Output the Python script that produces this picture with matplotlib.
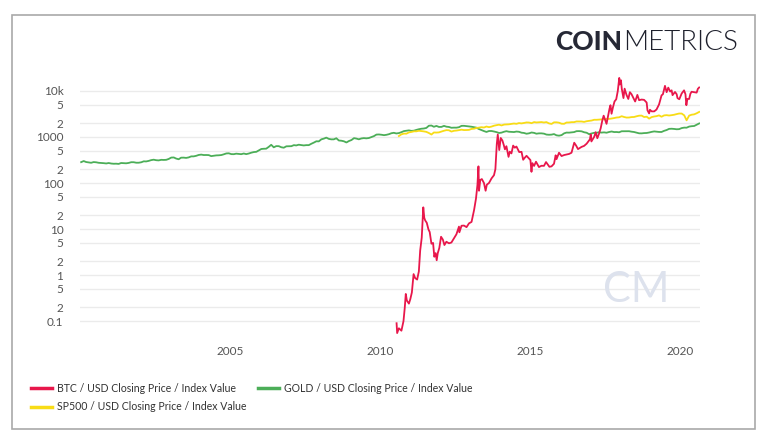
import pandas as pd
import matplotlib
matplotlib.use('Agg')
import matplotlib.pyplot as plt
import matplotlib.dates as mdates
from matplotlib.lines import Line2D
from matplotlib.patches import Rectangle
from matplotlib.ticker import FixedLocator, FixedFormatter


# ---- data ----
gold_start = '2000-01-01'
gold_values = [
    284, 300, 286, 280, 275, 285, 282, 275, 273, 270, 266, 272,
    265, 262, 263, 260, 272, 270, 268, 273, 283, 283, 276, 276,
    282, 296, 294, 302, 314, 321, 313, 310, 319, 317, 319, 333,
    357, 359, 340, 328, 355, 356, 351, 360, 379, 379, 390, 407,
    414, 405, 406, 404, 384, 392, 398, 400, 405, 420, 439, 442,
    424, 423, 434, 429, 423, 437, 424, 437, 456, 470, 476, 510,
    549, 555, 557, 610, 676, 596, 633, 632, 598, 585, 627, 629,
    631, 665, 655, 679, 666, 655, 665, 665, 712, 754, 806, 803,
    889, 922, 968, 909, 888, 889, 939, 839, 829, 806, 760, 816,
    858, 943, 924, 890, 928, 945, 934, 949, 996, 1043, 1127, 1134,
    1118, 1095, 1113, 1148, 1205, 1232, 1193, 1215, 1271, 1342, 1370, 1391,
    1356, 1372, 1424, 1473, 1510, 1528, 1572, 1755, 1772, 1665, 1739, 1652,
    1656, 1742, 1674, 1650, 1585, 1596, 1594, 1630, 1744, 1747, 1721, 1688,
    1670, 1627, 1593, 1487, 1414, 1343, 1286, 1347, 1349, 1316, 1275, 1221,
    1244, 1300, 1336, 1299, 1287, 1279, 1311, 1296, 1239, 1222, 1176, 1200,
    1251, 1227, 1178, 1198, 1199, 1181, 1128, 1117, 1125, 1156, 1086, 1068,
    1097, 1199, 1246, 1242, 1260, 1276, 1337, 1341, 1326, 1267, 1236, 1151,
    1192, 1234, 1231, 1267, 1246, 1260, 1237, 1283, 1315, 1279, 1282, 1265,
    1331, 1331, 1325, 1334, 1303, 1282, 1238, 1201, 1198, 1215, 1221, 1250,
    1291, 1320, 1301, 1286, 1284, 1359, 1413, 1500, 1510, 1495, 1471, 1480,
    1560, 1597, 1592, 1683, 1715, 1732, 1847, 1968,
]

sp500_start = '2010-08-01'
sp500_values = [
    1049, 1141, 1183, 1180, 1258,
    1286, 1327, 1326, 1364, 1345, 1321, 1292, 1219, 1131, 1253, 1247, 1258,
    1312, 1366, 1408, 1398, 1310, 1362, 1379, 1407, 1441, 1412, 1416, 1426,
    1498, 1515, 1569, 1597, 1631, 1606, 1686, 1633, 1682, 1757, 1806, 1848,
    1783, 1859, 1872, 1884, 1924, 1960, 1931, 2003, 1972, 2018, 2068, 2059,
    1995, 2105, 2068, 2086, 2107, 2063, 2104, 1972, 1920, 2079, 2080, 2044,
    1940, 1932, 2060, 2065, 2097, 2099, 2174, 2171, 2168, 2126, 2199, 2239,
    2279, 2364, 2363, 2384, 2412, 2423, 2470, 2472, 2519, 2575, 2648, 2674,
    2824, 2714, 2641, 2648, 2705, 2718, 2816, 2902, 2914, 2711, 2760, 2507,
    2704, 2784, 2834, 2946, 2752, 2942, 2980, 2926, 2977, 3038, 3141, 3231,
    3226, 2954, 2300, 2912, 3044, 3100, 3271, 3500,
]

btc_dates = [
    '2010-07-18', '2010-07-25', '2010-08-15', '2010-09-15', '2010-10-10',
    '2010-10-25', '2010-11-07', '2010-11-20', '2010-12-15', '2011-01-01',
    '2011-01-20', '2011-02-10', '2011-03-01', '2011-03-25', '2011-04-15',
    '2011-05-01', '2011-05-20', '2011-06-08', '2011-06-20', '2011-07-01',
    '2011-07-20', '2011-08-10', '2011-08-25', '2011-09-15', '2011-10-05',
    '2011-10-20', '2011-11-05', '2011-11-18', '2011-12-01', '2011-12-20',
    '2012-01-10', '2012-02-01', '2012-02-20', '2012-03-15', '2012-04-15',
    '2012-05-15', '2012-06-15', '2012-07-15', '2012-08-15', '2012-08-20',
    '2012-09-15', '2012-10-15', '2012-11-15', '2012-12-15', '2013-01-15',
    '2013-02-15', '2013-03-10', '2013-03-28', '2013-04-09', '2013-04-16',
    '2013-05-01', '2013-05-20', '2013-06-15', '2013-07-05', '2013-07-20',
    '2013-08-15', '2013-09-15', '2013-10-15', '2013-11-01', '2013-11-18',
    '2013-11-30', '2013-12-18', '2014-01-05', '2014-01-25', '2014-02-10',
    '2014-02-25', '2014-03-15', '2014-04-10', '2014-04-25', '2014-05-15',
    '2014-06-05', '2014-06-25', '2014-07-15', '2014-08-18', '2014-09-15',
    '2014-10-05', '2014-10-25', '2014-11-15', '2014-12-15', '2015-01-01',
    '2015-01-14', '2015-01-25', '2015-02-15', '2015-03-10', '2015-04-15',
    '2015-05-15', '2015-06-15', '2015-07-10', '2015-08-20', '2015-09-15',
    '2015-10-15', '2015-11-04', '2015-11-15', '2015-12-15', '2016-01-15',
    '2016-02-15', '2016-03-15', '2016-04-15', '2016-05-15', '2016-06-17',
    '2016-07-10', '2016-08-02', '2016-09-15', '2016-10-15', '2016-11-15',
    '2016-12-25', '2017-01-04', '2017-01-12', '2017-02-15', '2017-03-05',
    '2017-03-25', '2017-04-15', '2017-05-05', '2017-05-25', '2017-06-10',
    '2017-07-15', '2017-08-01', '2017-08-20', '2017-09-01', '2017-09-14',
    '2017-10-01', '2017-10-20', '2017-11-10', '2017-11-29', '2017-12-17',
    '2017-12-22', '2018-01-06', '2018-01-17', '2018-02-06', '2018-02-20',
    '2018-03-15', '2018-04-06', '2018-04-25', '2018-05-15', '2018-06-28',
    '2018-07-25', '2018-08-15', '2018-09-15', '2018-10-15', '2018-11-15',
    '2018-11-25', '2018-12-15', '2018-12-25', '2019-01-15', '2019-02-15',
    '2019-03-15', '2019-04-15', '2019-05-15', '2019-06-01', '2019-06-26',
    '2019-07-16', '2019-08-05', '2019-08-28', '2019-09-15', '2019-09-26',
    '2019-10-26', '2019-11-15', '2019-11-25', '2019-12-17', '2020-01-15',
    '2020-02-13', '2020-03-01', '2020-03-12', '2020-03-25', '2020-04-15',
    '2020-04-30', '2020-05-15', '2020-06-15', '2020-07-15', '2020-07-30',
    '2020-08-15',
]
btc_values = [
    0.09, 0.055, 0.07, 0.062, 0.10,
    0.19, 0.39, 0.28, 0.24, 0.30,
    0.42, 1.05, 0.86, 0.80, 1.2,
    3.4, 6.5, 29.6, 17.5, 15.4,
    13.7, 9.8, 8.6, 4.8, 5.0,
    2.5, 3.0, 2.1, 3.0, 3.9,
    6.8, 5.9, 4.5, 5.3, 4.9,
    5.1, 6.3, 7.7, 11.3, 8.5,
    11.8, 11.9, 11.0, 13.3, 14.3,
    26, 46, 92, 230, 68,
    116, 122, 100, 68, 92,
    100, 126, 148, 200, 700,
    1130, 520, 950, 840, 680,
    540, 630, 370, 480, 440,
    650, 585, 620, 470, 475,
    320, 355, 390, 340, 315,
    175, 270, 235, 290, 222,
    237, 236, 285, 225, 230,
    262, 400, 330, 455, 385,
    405, 415, 428, 455, 750,
    650, 545, 610, 640, 715,
    890, 1130, 800, 1010, 1270,
    940, 1180, 1550, 2300, 2900,
    1930, 2730, 4100, 4900, 3200,
    4400, 5900, 6600, 10000, 19200,
    13800, 17100, 11000, 7000, 11200,
    8200, 6700, 9400, 8500, 5900,
    8200, 6300, 6500, 6400, 5600,
    3800, 3250, 3900, 3600, 3600,
    3950, 5100, 8000, 8500, 12900,
    9400, 11800, 9700, 10300, 8100,
    9500, 8500, 7000, 6600, 8800,
    10300, 8500, 4900, 6700, 6700,
    8700, 9600, 9400, 9200, 11100,
    11900,
]

y_ticks = [0.1, 0.2, 0.5, 1, 2, 5, 10, 20, 50, 100, 200, 500,
           1000, 2000, 5000, 10000]
y_tick_labels = ['0.1', '2', '5', '1', '2', '5', '10', '2', '5', '100',
                 '2', '5', '1000', '2', '5', '10k']
x_tick_years = ['2005', '2010', '2015', '2020']

series_labels = [
    'BTC / USD Closing Price / Index Value',
    'GOLD / USD Closing Price / Index Value',
    'SP500 / USD Closing Price / Index Value',
]

RED = '#e8174b'
GREEN = '#4cae58'
YELLOW = '#f8dc16'
FONT = ['Lato', 'DejaVu Sans']


def draw_chart(save_fig=True):

    gold_dates = pd.date_range(gold_start, periods=len(gold_values),
                               freq='MS') + pd.Timedelta(days=14)
    sp500_dates = pd.date_range(sp500_start, periods=len(sp500_values),
                                freq='MS') + pd.Timedelta(days=14)
    btc_idx = pd.to_datetime(btc_dates)

    fig = plt.figure(figsize=(7.68, 4.44), dpi=100)
    ax = fig.add_axes([80 / 768, 1 - 338 / 444, 620 / 768, 268 / 444])

    # frame around everything
    fig.patches.append(Rectangle(
        (12 / 768, 1 - 429 / 444), 743 / 768, 414 / 444,
        transform=fig.transFigure, fill=False,
        edgecolor='#a9a9a9', linewidth=1.2,
    ))

    ax.plot(gold_dates, gold_values, color=GREEN, lw=1.3, zorder=3)
    ax.plot(sp500_dates, sp500_values, color=YELLOW, lw=1.3, zorder=3)
    ax.plot(btc_idx, btc_values, color=RED, lw=1.3, zorder=4)

    ax.set_yscale('log')
    ax.set_ylim(0.043, 28500)
    ax.set_xlim(pd.Timestamp('2000-01-01'), pd.Timestamp('2020-08-25'))

    ax.yaxis.set_major_locator(FixedLocator(y_ticks))
    ax.yaxis.set_major_formatter(FixedFormatter(y_tick_labels))
    ax.yaxis.set_minor_locator(FixedLocator([]))
    x_ticks = [mdates.date2num(pd.Timestamp(y + '-01-01')) for y in x_tick_years]
    ax.xaxis.set_major_locator(FixedLocator(x_ticks))
    ax.xaxis.set_major_formatter(FixedFormatter(x_tick_years))

    ax.grid(axis='y', color='#ebebeb', lw=1.0)
    ax.set_axisbelow(True)
    for sp in ax.spines.values():
        sp.set_visible(False)
    ax.tick_params(length=0, labelsize=8.5, labelcolor='#555555')
    ax.tick_params(axis='y', pad=12)
    ax.tick_params(axis='x', pad=6)
    for lbl in ax.get_xticklabels() + ax.get_yticklabels():
        lbl.set_family(FONT)

    # watermark
    ax.text(636 / 768, 1 - 290 / 444, 'CM', transform=fig.transFigure,
            ha='center', va='center', fontsize=30, weight='normal',
            color='#dde2ed', family=FONT, zorder=2)

    # logo
    fig.text(622 / 768, 1 - 42 / 444, 'COIN', ha='right', va='center',
             fontsize=19, weight='black', color='#262835', family=FONT)
    fig.text(623 / 768, 1 - 42 / 444, 'METRICS', ha='left', va='center',
             fontsize=20, weight=300, color='#1e202c', family=FONT)

    # legend (row-major order for 2 columns)
    handles = [
        Line2D([], [], color=RED, lw=2.5),
        Line2D([], [], color=YELLOW, lw=2.5),
        Line2D([], [], color=GREEN, lw=2.5),
    ]
    labels = [series_labels[0], series_labels[2], series_labels[1]]
    fig.legend(handles, labels, ncol=2, loc='upper left',
               bbox_to_anchor=(21 / 768, 1 - 373 / 444), frameon=False,
               prop={'family': FONT, 'size': 7.6}, labelcolor='#333333',
               handlelength=2.0, handletextpad=0.5, columnspacing=1.1,
               labelspacing=0.75)

    if save_fig:
        fig.savefig('out.png', dpi=100)
    return fig, ax


if __name__ == '__main__':
    draw_chart(save_fig=True)
